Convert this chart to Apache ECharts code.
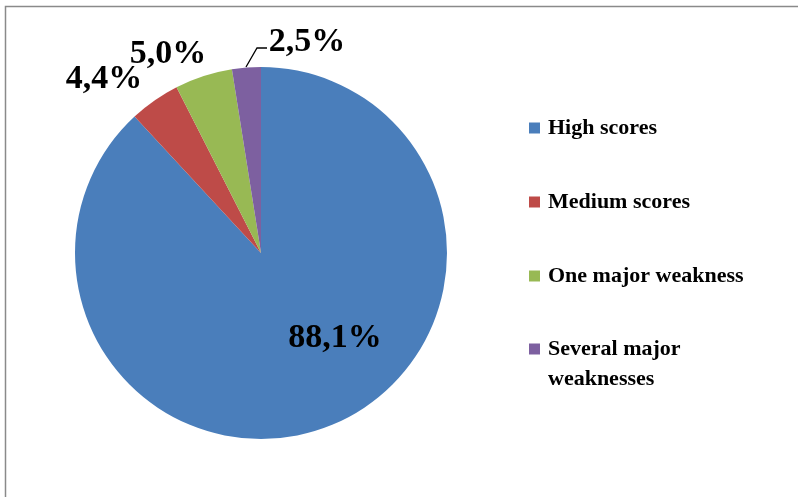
<!DOCTYPE html>
<html>
<head>
<meta charset="utf-8">
<script src="https://cdn.jsdelivr.net/npm/echarts@6/dist/echarts.min.js"></script>
<style>
html,body{margin:0;padding:0;background:#fff;}
#chart{width:798px;height:497px;}
</style>
</head>
<body>
<div id="chart"></div>
<script>
const categories = ['High scores', 'Medium scores', 'One major weakness', 'Several major weaknesses'];
const values = [88.1, 4.4, 5.0, 2.5];
const colors = ['#4A7EBB', '#BE4B48', '#98B954', '#7D60A0'];

const chart = echarts.init(document.getElementById('chart'));
const serif = '"Liberation Serif", "Times New Roman", serif';

// label anchor positions (label layout only)
const labelPos = [[335, 338], [104, 79], [168, 54], [307, 42]];

const data = categories.map((name, i) => ({
  name: name,
  value: values[i],
  itemStyle: { color: colors[i] },
  label: { position: i === 0 ? 'inside' : 'outside' },
  labelLine: { show: i === 3 }
}));

const option = {
  backgroundColor: '#ffffff',
  animation: false,
  graphic: [{
    type: 'rect',
    shape: { x: 5.5, y: 6.5, width: 820, height: 520 },
    style: { fill: 'none', stroke: '#8a8a8a', lineWidth: 1.5 },
    silent: true
  }],
  legend: [{
    orient: 'vertical',
    left: 529,
    top: 113,
    padding: 0,
    itemWidth: 11,
    itemHeight: 11,
    itemGap: 44,
    icon: 'rect',
    selectedMode: false,
    data: categories.slice(0, 3),
    textStyle: {
      fontFamily: serif, fontWeight: 'bold', fontSize: 22, color: '#000',
      lineHeight: 30, padding: [0, 0, 0, 3]
    }
  }, {
    orient: 'vertical',
    left: 529,
    top: 304,
    padding: 0,
    itemWidth: 11,
    itemHeight: 11,
    icon: 'rect',
    selectedMode: false,
    data: categories.slice(3),
    formatter: function () { return '\nSeveral major\nweaknesses'; },
    textStyle: {
      fontFamily: serif, fontWeight: 'bold', fontSize: 22, color: '#000',
      lineHeight: 30, padding: [0, 0, 0, 3]
    }
  }],
  series: [{
    type: 'pie',
    center: [261, 253],
    radius: 186,
    startAngle: 90,
    clockwise: true,
    avoidLabelOverlap: false,
    itemStyle: { borderWidth: 0 },
    label: {
      show: true,
      fontFamily: serif,
      fontWeight: 'bold',
      fontSize: 34,
      color: '#000',
      formatter: function (p) { return p.value.toFixed(1).replace('.', ',') + '%'; }
    },
    labelLine: {
      lineStyle: { color: '#000', width: 1.3 },
      length: 15,
      length2: 10
    },
    labelLayout: function (params) {
      const i = params.dataIndex;
      const res = { x: labelPos[i][0], y: labelPos[i][1], align: 'center', verticalAlign: 'middle' };
      if (i === 3) {
        res.labelLinePoints = [[246, 67], [257, 48], [267, 48]];
      }
      return res;
    },
    emphasis: { disabled: true },
    data: data
  }]
};
chart.setOption(option);
</script>
</body>
</html>
